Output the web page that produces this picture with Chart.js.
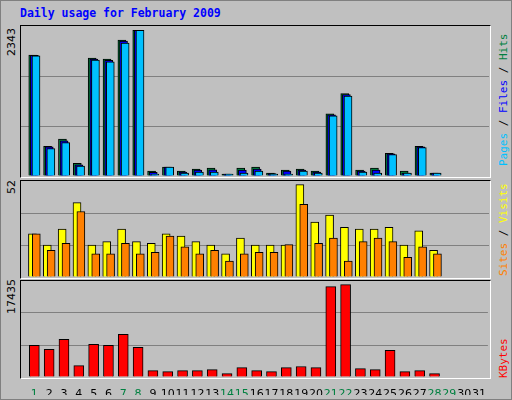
<!DOCTYPE html>
<html>
<head>
<meta charset="utf-8">
<script src="https://cdn.jsdelivr.net/npm/chart.js@4"></script>
<style>
  body { margin: 0; background: #c0c0c0; }
  #frame { position: absolute; left: 0; top: 0; width: 510px; height: 398px; border: 1px solid #808080; background: #c0c0c0; }
  .panel { position: absolute; left: 20px; width: 469px; border-top: 1px solid #000; border-left: 1px solid #000; border-right: 1px solid #fff; border-bottom: 1px solid #fff; }
  canvas { position: absolute; }
  .rot { position: absolute; transform: rotate(-90deg); transform-origin: left top; white-space: nowrap; }
  .mx { font: 11px "DejaVu Sans", sans-serif; color: #000; left: 5px; }
  .lg { font: 11px "DejaVu Sans Mono", monospace; left: 497px; }
  #title { position: absolute; left: 20px; top: 6px; font: bold 11.5px "DejaVu Sans Mono", monospace; color: #0000ff; }
</style>
</head>
<body>
<div id="frame"></div>
<div id="title">Daily usage for February 2009</div>
<div class="panel" style="top:25px;height:151px"></div>
<div class="panel" style="top:180px;height:97px"></div>
<div class="panel" style="top:280px;height:97px"></div>
<canvas id="c1" style="left:21px;top:26px"></canvas>
<canvas id="c2" style="left:21px;top:181px"></canvas>
<canvas id="c3" style="left:21px;top:281px"></canvas>
<div class="rot mx" style="top:56px">2343</div>
<div class="rot mx" style="top:194px">52</div>
<div class="rot mx" style="top:314px">17435</div>
<div class="rot lg" style="top:166px"><span style="color:#00c0ff">Pages</span> / <span style="color:#0000ff">Files</span> / <span style="color:#008040">Hits</span></div>
<div class="rot lg" style="top:276px"><span style="color:#ff8000">Sites</span> / <span style="color:#ffff00">Visits</span></div>
<div class="rot lg" style="top:378px"><span style="color:#ff0000">KBytes</span></div>
<script>
const days = [];
for (let d = 1; d <= 31; d++) days.push(d);
const weekendDays = [1, 7, 8, 14, 15, 21, 22, 28, 29];

const hits  = [1890,465,575,197,1840,1825,2125,2275,78,139,78,109,125,31,125,139,47,93,109,78,971,1286,93,125,356,78,465,47];
const files = [1886,455,548,176,1825,1805,2108,2275,56,139,62,93,98,31,93,109,36,78,93,62,955,1271,78,93,346,47,455,47];
const pages = [1876,429,522,155,1809,1784,2077,2275,31,139,47,62,62,31,47,78,31,31,78,47,940,1250,62,47,336,47,445,47];
const visits = [23.4,17.3,26,40.3,17.3,19.2,26,19.2,18.2,23.4,22.1,19.2,17.3,12.5,21.1,17.3,17.3,17.3,50,29.8,33.6,26.9,26,26,26.9,17.3,25,14.4];
const sites  = [23.4,14.4,18.2,35.5,12.5,12.5,18.2,12.5,13.4,22.1,16.3,12.5,14.4,8.6,12.5,13.4,13.4,17.5,39.4,18.2,21.1,8.6,19.2,21.1,19.2,10.6,16.3,12.5];
const kbytes = [5750,5020,6850,2080,5940,5750,7770,5390,1160,980,1160,1160,1350,610,1710,1160,980,1710,1900,1710,16400,16770,1530,1350,4830,980,1160,610];

function pts(vals, off) {
  return vals.map((v, i) => ({ x: days[i] + off, y: v }));
}

function makeChart(id, w, h, datasets, maxY, showX) {
  const cv = document.getElementById(id);
  cv.width = w; cv.height = h;
  cv.style.width = w + 'px'; cv.style.height = h + 'px';
  new Chart(cv, {
    type: 'bar',
    data: { datasets: datasets },
    options: {
      responsive: false,
      animation: false,
      devicePixelRatio: 1,
      layout: { padding: 0 },
      plugins: { legend: { display: false }, tooltip: { enabled: false } },
      scales: {
        x: {
          type: 'linear', min: 0.1, max: 31.6, offset: false,
          display: showX,
          grid: { display: false },
          border: { display: false },
          afterBuildTicks: s => { s.ticks = days.map(d => ({ value: d })); },
          afterFit: s => { s.height = showX ? 18 : 0; },
          ticks: {
            autoSkip: false, maxRotation: 0, padding: 3,
            font: { family: 'DejaVu Sans', size: 11 },
            color: c => weekendDays.includes(c.tick.value) ? '#008040' : '#000',
            callback: v => String(v)
          }
        },
        y: {
          min: 0, max: maxY,
          afterBuildTicks: s => { s.ticks = [0, maxY / 3, maxY * 2 / 3, maxY].map(v => ({ value: v })); },
          ticks: { display: false },
          afterFit: s => { s.width = 0; },
          border: { display: false },
          grid: {
            drawTicks: false,
            color: c => (c.index === 1 || c.index === 2) ? '#808080' : 'rgba(0,0,0,0)'
          }
        }
      }
    }
  });
}

function bar(label, data, color, width, order) {
  return { label: label, data: data, backgroundColor: color, borderColor: '#000', borderWidth: 1,
           borderSkipped: 'bottom', barThickness: width, grouped: false, order: order };
}

makeChart('c1', 468, 150, [
  bar('Hits', pts(hits, -0.11), '#008040', 8, 3),
  bar('Files', pts(files, 0), '#0000ff', 8, 2),
  bar('Pages', pts(pages, 0.11), '#00c0ff', 8, 1)
], 2343, false);

makeChart('c2', 468, 96, [
  bar('Visits', pts(visits, -0.13), '#ffff00', 8, 2),
  bar('Sites', pts(sites, 0.13), '#ff8000', 8, 1)
], 52, false);

makeChart('c3', 468, 114, [
  bar('KBytes', pts(kbytes, 0), '#ff0000', 10, 1)
], 17435, true);
</script>
</body>
</html>
